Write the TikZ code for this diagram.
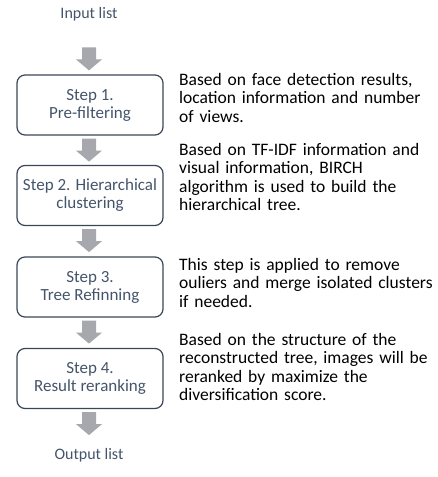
\documentclass[tikz,border=0pt]{standalone}
\usepackage{fontspec}
\setmainfont{Carlito}
\usetikzlibrary{calc}
\definecolor{boxtext}{HTML}{44546A}
\definecolor{boxline}{HTML}{3A4656}
\definecolor{arrowgray}{HTML}{A7A7AE}
\tikzset{
  x=1pt,y=-1pt,
  stepbox/.style={draw=boxline,line width=1.2pt,rounded corners=8pt,minimum width=146pt,minimum height=60pt,
    align=center,text=boxtext,font=\fontsize{17}{18}\selectfont,inner sep=0pt},
  endlabel/.style={text=boxtext,font=\fontsize{16}{18}\selectfont,inner sep=0pt},
  desc/.style={anchor=base west,text width=258pt,align=left,inner sep=0pt,font=\fontsize{17.5}{18.6}\selectfont,text=black},
  downarrow/.pic={\fill[arrowgray] (-7,0) -- (7,0) -- (7,12) -- (13,12) -- (0,23) -- (-13,12) -- (-7,12) -- cycle;}
}
\begin{document}
\begin{tikzpicture}
\useasboundingbox (0,0) rectangle (438,477);
\node[endlabel] (in) at (89,14) {Input list};
\node[stepbox] (b1) at (90,105) {Step 1.\\Pre-filtering};
\node[stepbox] (b2) at (90,195.5) {Step 2. Hierarchical\\clustering};
\node[stepbox] (b3) at (90,287) {Step 3.\\Tree Refinning};
\node[stepbox] (b4) at (90,378.5) {Step 4.\\Result reranking};
\node[endlabel] (out) at (89,455) {Output list};
\pic at ($(b1.north)+(-1,-27)$) {downarrow};
\pic at ($(b1.south)+(-1,3)$) {downarrow};
\pic at ($(b2.south)+(-1,3)$) {downarrow};
\pic at ($(b3.south)+(-1,3)$) {downarrow};
\pic at ($(b4.south)+(-1,3)$) {downarrow};
\node[desc] (t1) at (179,85) {Based on face detection results,\\location information and number\\of views.};
\node[desc] (t2) at (179,155) {Based on TF-IDF information and\\visual information, BIRCH\\algorithm is used to build the\\hierarchical tree.};
\node[desc] (t3) at (179,270) {This step is applied to remove\\ouliers and merge isolated clusters\\if needed.};
\node[desc] (t4) at (179,345) {Based on the structure of the\\reconstructed tree, images will be\\reranked by maximize the\\diversification score.};
\end{tikzpicture}
\end{document}
